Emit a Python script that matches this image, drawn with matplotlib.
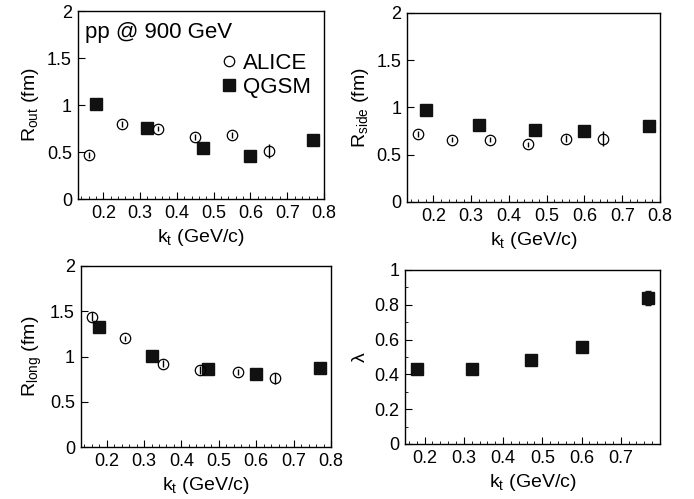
import matplotlib
matplotlib.use("Agg")
import matplotlib.pyplot as plt
from matplotlib.ticker import MultipleLocator
from matplotlib.lines import Line2D

plt.rcParams['font.family'] = ['Liberation Sans', 'DejaVu Sans']
plt.rcParams['mathtext.default'] = 'regular'
plt.rcParams['font.size'] = 12

# ALICE (experiment) and QGSM (model) points
kt_alice = [0.16, 0.25, 0.35, 0.45, 0.55, 0.65]
kt_qgsm = [0.18, 0.32, 0.47, 0.60, 0.77]

rout_alice = [0.47, 0.80, 0.75, 0.66, 0.68, 0.51]
rout_alice_err = [0.03, 0.03, 0.03, 0.03, 0.03, 0.07]
rout_qgsm = [1.01, 0.76, 0.54, 0.46, 0.63]

rside_alice = [0.72, 0.66, 0.66, 0.61, 0.67, 0.67]
rside_alice_err = [0.03, 0.03, 0.03, 0.03, 0.04, 0.08]
rside_qgsm = [0.97, 0.82, 0.76, 0.75, 0.80]

rlong_alice = [1.44, 1.20, 0.92, 0.85, 0.83, 0.76]
rlong_alice_err = [0.05, 0.03, 0.04, 0.04, 0.03, 0.06]
rlong_qgsm = [1.33, 1.01, 0.86, 0.81, 0.87]

lam_qgsm = [0.43, 0.43, 0.48, 0.56, 0.84]
lam_qgsm_err = [0.01, 0.01, 0.01, 0.01, 0.04]

W, H = 694, 499
fig = plt.figure(figsize=(W / 100, H / 100), dpi=100)


def make_ax(l, r, t, b):
    return fig.add_axes([l / W, 1 - b / H, (r - l) / W, (b - t) / H])


def fmt(v, p):
    return '%g' % round(v, 2)


def style(ax, ylim, ymaj, ymin=None, xlim=(0.13, 0.8)):
    ax.set_xlim(*xlim)
    ax.set_ylim(*ylim)
    ax.xaxis.set_major_locator(MultipleLocator(0.1))
    ax.xaxis.set_minor_locator(MultipleLocator(0.02))
    ax.yaxis.set_major_locator(MultipleLocator(ymaj))
    if ymin:
        ax.yaxis.set_minor_locator(MultipleLocator(ymin))
    ax.tick_params(which='both', direction='in', top=False, right=False, labelsize=13, pad=4)
    ax.tick_params(which='major', length=5)
    ax.tick_params(which='minor', length=2.5)
    ax.set_xlabel('$k_t$ (GeV/c)', fontsize=14)
    ax.xaxis.set_major_formatter(plt.FuncFormatter(fmt))
    ax.yaxis.set_major_formatter(plt.FuncFormatter(fmt))
    for s in ax.spines.values():
        s.set_linewidth(1.0)


def draw(ax, ya, yerr, yq):
    ax.errorbar(kt_alice, ya, yerr=yerr, fmt='o', mfc='none', mec='black', ecolor='black',
                ms=7.5, mew=0.9, elinewidth=1, capsize=0)
    ax.plot(kt_qgsm, yq, 's', color='#111111', ms=8)


ax1 = make_ax(77.5, 324, 11, 199)
draw(ax1, rout_alice, rout_alice_err, rout_qgsm)
style(ax1, (0, 2), 0.5)
ax1.set_ylabel('R$_{out}$ (fm)', fontsize=14)
ax1.text(0.03, 0.94, 'pp @ 900 GeV', transform=ax1.transAxes, fontsize=16, va='top', ha='left')
handles = [Line2D([], [], ls='none', marker='o', mfc='none', mec='black', ms=7.5, mew=0.9),
           Line2D([], [], ls='none', marker='s', color='#111111', ms=8)]
ax1.legend(handles, ['ALICE', 'QGSM'], loc='upper right', bbox_to_anchor=(1.0, 0.85), frameon=False,
           fontsize=16, handletextpad=0.1, borderaxespad=0.2, labelspacing=0.15, handlelength=1.0)

ax2 = make_ax(407, 660, 13, 202)
draw(ax2, rside_alice, rside_alice_err, rside_qgsm)
style(ax2, (0, 2), 0.5)
ax2.set_ylabel('R$_{side}$ (fm)', fontsize=14)

ax3 = make_ax(80.5, 331, 266, 447)
draw(ax3, rlong_alice, rlong_alice_err, rlong_qgsm)
style(ax3, (0, 2), 0.5)
ax3.set_ylabel('R$_{long}$ (fm)', fontsize=14)

ax4 = make_ax(405, 660, 270, 444)
ax4.errorbar(kt_qgsm, lam_qgsm, yerr=lam_qgsm_err, fmt='s', color='#111111', ms=8,
             elinewidth=1, capsize=2)
style(ax4, (0, 1), 0.2, 0.1, xlim=(0.15, 0.8))
ax4.set_xticks([0.2, 0.3, 0.4, 0.5, 0.6, 0.7])
ax4.set_ylabel('$\\lambda$', fontsize=14)

fig.savefig('out.png', dpi=100)
